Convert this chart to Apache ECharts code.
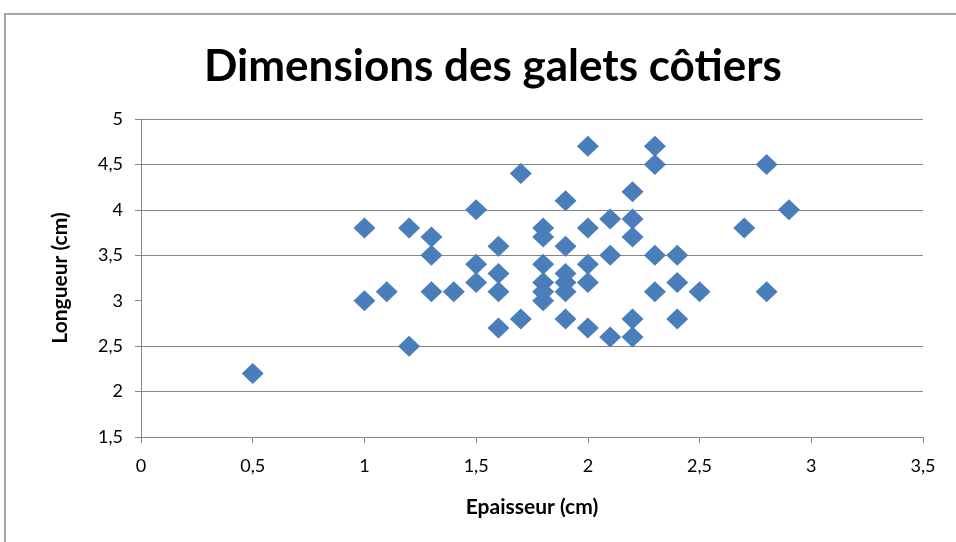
<!DOCTYPE html>
<html><head><meta charset="utf-8">
<script src="https://cdn.jsdelivr.net/npm/echarts@6/dist/echarts.min.js"></script>
<style>html,body{margin:0;padding:0;background:#fff}#c{width:956px;height:542px}</style>
</head><body><div id="c"></div>
<script>
var epaisseur = [0.5,1.0,1.0,1.1,1.2,1.2,1.3,1.3,1.3,1.4,1.5,1.5,1.5,1.6,1.6,1.6,1.6,1.7,1.7,
  1.8,1.8,1.8,1.8,1.8,1.8,1.9,1.9,1.9,1.9,1.9,1.9,2.0,2.0,2.0,2.0,2.0,2.1,2.1,2.1,
  2.2,2.2,2.2,2.2,2.2,2.3,2.3,2.3,2.3,2.4,2.4,2.4,2.5,2.7,2.8,2.8,2.9];
var longueur  = [2.2,3.8,3.0,3.1,3.8,2.5,3.7,3.5,3.1,3.1,4.0,3.4,3.2,3.6,3.3,3.1,2.7,4.4,2.8,
  3.8,3.7,3.4,3.2,3.1,3.0,4.1,3.6,3.3,3.2,3.1,2.8,4.7,3.8,3.4,3.2,2.7,3.9,3.5,2.6,
  4.2,3.9,3.7,2.8,2.6,4.7,4.5,3.5,3.1,3.5,3.2,2.8,3.1,3.8,4.5,3.1,4.0];
var yGridValues = [2,2.5,3.5,4,4.5,5];
var titleText = 'Dimensions des galets côtiers';
var xName = 'Epaisseur (cm)';
var yName = 'Longueur (cm)';

var pts = epaisseur.map(function(x,i){return [x, longueur[i]];});
var fmt = function(v){return String(v).replace('.', ',');};
var FONT = 'Lato';
var chart = echarts.init(document.getElementById('c'));
chart.setOption({
  animation:false,
  backgroundColor:'#fff',
  graphic:[{type:'rect',shape:{x:5,y:14,width:1000,height:600},style:{fill:'none',stroke:'#8a8a8a',lineWidth:1.5},silent:true,z:-1}],
  title:{text:titleText,left:199,top:40,textStyle:{fontFamily:FONT,fontWeight:'bold',fontSize:44,color:'#000'}},
  grid:{left:141,right:33,top:119,bottom:105},
  xAxis:{type:'value',min:0,max:3.5,interval:0.5,
    name:xName,nameLocation:'middle',nameGap:60,
    nameTextStyle:{fontFamily:FONT,fontWeight:'bold',fontSize:21,color:'#000'},
    axisLine:{show:true,lineStyle:{color:'#868686',width:1}},
    axisTick:{show:true,length:6,inside:false,lineStyle:{color:'#868686'}},
    axisLabel:{fontFamily:FONT,fontSize:18,color:'#000',margin:20,formatter:fmt},
    splitLine:{show:false}},
  yAxis:{type:'value',min:1.5,max:5,interval:0.5,
    name:yName,nameLocation:'middle',nameGap:70,
    nameTextStyle:{fontFamily:FONT,fontWeight:'bold',fontSize:21,color:'#000'},
    axisLine:{show:true,lineStyle:{color:'#868686',width:1}},
    axisTick:{show:true,length:6,inside:false,lineStyle:{color:'#868686'}},
    axisLabel:{fontFamily:FONT,fontSize:18,color:'#000',margin:18,formatter:fmt},
    splitLine:{show:false}},
  series:[
    {type:'scatter',data:[],z:1,silent:true,
     markLine:{z:1,silent:true,symbol:['none','none'],label:{show:false},animation:false,
       lineStyle:{color:'#868686',width:1,type:'solid'},
       data:yGridValues.map(function(v){return {yAxis:v};})}},
    {type:'scatter',data:pts,z:3,symbol:'diamond',symbolSize:[22,21],
     itemStyle:{color:'#4A7EBB',opacity:1}}
  ]
});
</script></body></html>
